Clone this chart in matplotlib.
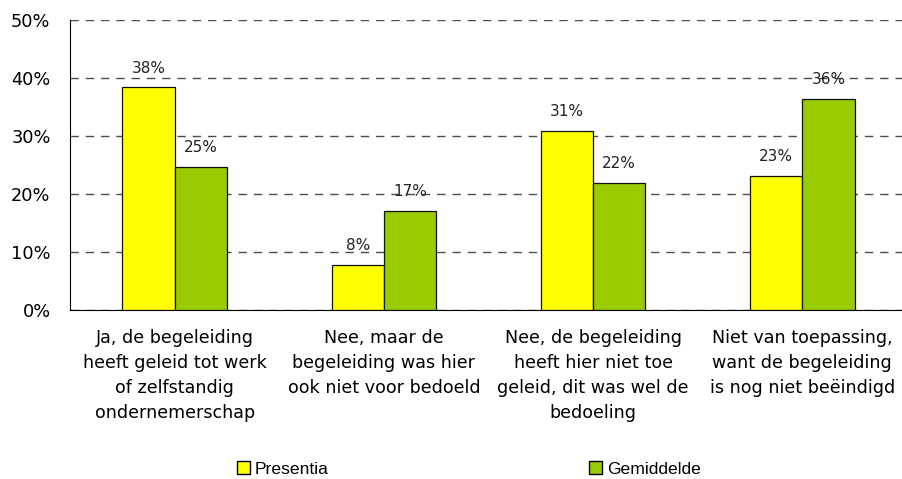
import matplotlib
matplotlib.use("Agg")
import matplotlib.pyplot as plt
import numpy as np
from matplotlib.patches import Patch

categories = [
    "Ja, de begeleiding\nheeft geleid tot werk\nof zelfstandig\nondernemerschap",
    "Nee, maar de\nbegeleiding was hier\nook niet voor bedoeld",
    "Nee, de begeleiding\nheeft hier niet toe\ngeleid, dit was wel de\nbedoeling",
    "Niet van toepassing,\nwant de begeleiding\nis nog niet beëindigd",
]
presentia = [38.4, 7.8, 30.9, 23.1]
gemiddelde = [24.7, 17.1, 21.9, 36.4]
series_names = ["Presentia", "Gemiddelde"]
yticks = [0, 10, 20, 30, 40, 50]

fig = plt.figure(figsize=(9.03, 4.79), dpi=100)
ax = fig.add_axes([70/903, 1-310/479, 837/903, 290/479])

x = np.arange(len(categories))
w = 0.25
c1, c2 = "#FFFF00", "#99CC00"
b1 = ax.bar(x - w/2, presentia, w, color=c1, edgecolor="#111111", linewidth=0.9, zorder=3)
b2 = ax.bar(x + w/2, gemiddelde, w, color=c2, edgecolor="#111111", linewidth=0.9, zorder=3)

for bars, vals in ((b1, presentia), (b2, gemiddelde)):
    for r, v in zip(bars, vals):
        ax.text(r.get_x() + r.get_width()/2, v + 2.0, f"{round(v)}%", ha="center", va="bottom",
                fontsize=11, color="#222222", zorder=4)

ax.set_xlim(-0.5, 3.5)
ax.set_ylim(0, 50)
ax.set_yticks(yticks)
ax.set_yticklabels([f"{t}%" for t in yticks], fontsize=12.8)
ax.yaxis.grid(True, linestyle=(0, (6, 5)), color="#4d4d4d", linewidth=1.0, zorder=0)
ax.set_axisbelow(True)
ax.tick_params(axis="y", length=0, pad=14)
ax.tick_params(axis="x", length=0, pad=14)
ax.set_xticks(x)
ax.set_xticklabels(categories, fontsize=12.6, linespacing=1.5)
for s in ("top", "right"):
    ax.spines[s].set_visible(False)
ax.spines["left"].set_color("black")
ax.spines["bottom"].set_color("black")

handles = [Patch(facecolor=c1, edgecolor="black"), Patch(facecolor=c2, edgecolor="black")]
fig.legend(handles, series_names, loc="center", bbox_to_anchor=(469/903, 1-469/479), ncol=2,
           frameon=False, columnspacing=14.9, handlelength=0.7, handleheight=0.7, handletextpad=0.3,
           prop={"family": "Liberation Sans", "size": 12.6})

fig.savefig("out.png", dpi=100)
